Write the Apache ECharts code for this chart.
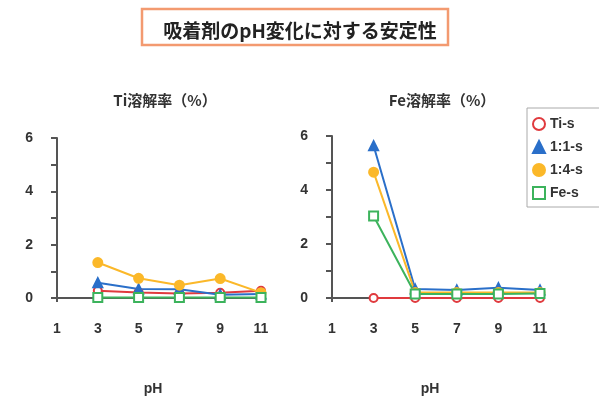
<!DOCTYPE html>
<html>
<head>
<meta charset="utf-8">
<script src="https://cdn.jsdelivr.net/npm/echarts@6/dist/echarts.min.js"></script>
<style>html,body{margin:0;padding:0;background:#fff;}#c{width:599px;height:397px;}</style>
</head>
<body>
<div id="c"></div>
<script>
const mainTitle = '吸着剤のpH変化に対する安定性';
const leftTitle = 'Ti溶解率（%）';
const rightTitle = 'Fe溶解率（%）';
const xName = 'pH';
const pH = [3, 5, 7, 9, 11];
const seriesNames = ['Ti-s', '1:1-s', '1:4-s', 'Fe-s'];
// Ti dissolution rate (%)
const tiTi = [0.27, 0.21, 0.17, 0.2, 0.27];
const tiS11 = [0.57, 0.34, 0.33, 0.12, 0.15];
const tiS14 = [1.33, 0.74, 0.48, 0.73, 0.2];
const tiFe = [0.02, 0.02, 0.02, 0.02, 0.02];
// Fe dissolution rate (%)
const feTi = [0, 0, 0, 0, 0];
const feS11 = [5.64, 0.33, 0.3, 0.38, 0.3];
const feS14 = [4.66, 0.2, 0.2, 0.2, 0.2];
const feFe = [3.04, 0.15, 0.15, 0.15, 0.17];

const colors = ['#e03a3e', '#2a6fc9', '#fbb829', '#3cb35c'];
const symbols = ['emptyCircle', 'triangle', 'circle', 'emptyRect'];
const sizes = [8, 9, 9, 9];

const pairs = arr => arr.map((v, i) => [pH[i], v]);
const leftData = [tiTi, tiS11, tiS14, tiFe];
const rightData = [feTi, feS11, feS14, feFe];

const axisColor = '#555';
const labelStyle = {color: '#333', fontSize: 14, fontWeight: 'bold', fontFamily: 'Liberation Sans, Arial, sans-serif'};

function xAxis(idx) {
  return {
    type: 'value', gridIndex: idx, min: 1, max: 11, interval: 2,
    axisLine: {onZero: false, lineStyle: {color: axisColor, width: 2}},
    axisTick: {show: true, length: 4, lineStyle: {color: axisColor, width: 2}},
    splitLine: {show: false},
    axisLabel: Object.assign({margin: 24}, labelStyle),
    name: xName, nameLocation: 'middle', nameGap: 84,
    nameTextStyle: Object.assign({}, labelStyle, {padding: [0, 12, 0, 0]})
  };
}
function yAxis(idx) {
  return {
    type: 'value', gridIndex: idx, min: 0, max: 6, interval: 1,
    axisLine: {show: true, lineStyle: {color: axisColor, width: 2}},
    axisTick: {show: true, length: 6, lineStyle: {color: axisColor, width: 2}},
    splitLine: {show: false},
    axisLabel: Object.assign({margin: 24, formatter: v => (v % 2 === 0 ? String(v) : '')}, labelStyle)
  };
}

const series = [];
[leftData, rightData].forEach((group, gi) => {
  group.forEach((arr, si) => {
    series.push({
      name: seriesNames[si], type: 'line', xAxisIndex: gi, yAxisIndex: gi,
      data: pairs(arr), symbol: symbols[si], symbolSize: sizes[si],
      lineStyle: {color: colors[si], width: 2},
      itemStyle: {color: colors[si], borderColor: colors[si], borderWidth: 2},
      animation: false
    });
  });
});

const chart = echarts.init(document.getElementById('c'));
chart.setOption({
  backgroundColor: '#fff',
  animation: false,
  title: [
    {text: mainTitle, left: 295, top: 16, textAlign: 'center',
     textStyle: {fontSize: 19, fontWeight: 'bold', color: '#222', fontFamily: 'Noto Sans CJK JP, sans-serif'}},
    {text: leftTitle, left: 160, top: 88, textAlign: 'center',
     textStyle: {fontSize: 15, fontWeight: 'bold', color: '#333', fontFamily: 'Noto Sans CJK JP, sans-serif'}},
    {text: rightTitle, left: 437, top: 88, textAlign: 'center',
     textStyle: {fontSize: 15, fontWeight: 'bold', color: '#333', fontFamily: 'Noto Sans CJK JP, sans-serif'}}
  ],
  graphic: [
    {type: 'rect', shape: {x: 142, y: 9, width: 306, height: 36},
     style: {fill: 'none', stroke: '#f39a70', lineWidth: 2.5}}
  ],
  legend: {
    orient: 'vertical', left: 527, top: 108,
    padding: [9, 30, 7, 5], itemGap: 9, itemWidth: 12, itemHeight: 12,
    borderColor: '#aaa', borderWidth: 1,
    textStyle: {fontSize: 14, fontWeight: 'bold', color: '#333', fontFamily: 'Liberation Sans, Arial, sans-serif'},
    data: seriesNames.map((n, i) => ({name: n, icon: symbols[i], itemStyle: {color: colors[i], borderColor: colors[i], borderWidth: 2}}))
  },
  grid: [
    {left: 57, right: 338, top: 138, bottom: 94},
    {left: 332, right: 59, top: 136, bottom: 93}
  ],
  xAxis: [xAxis(0), xAxis(1)],
  yAxis: [yAxis(0), yAxis(1)],
  series: series
});
</script>
</body>
</html>
